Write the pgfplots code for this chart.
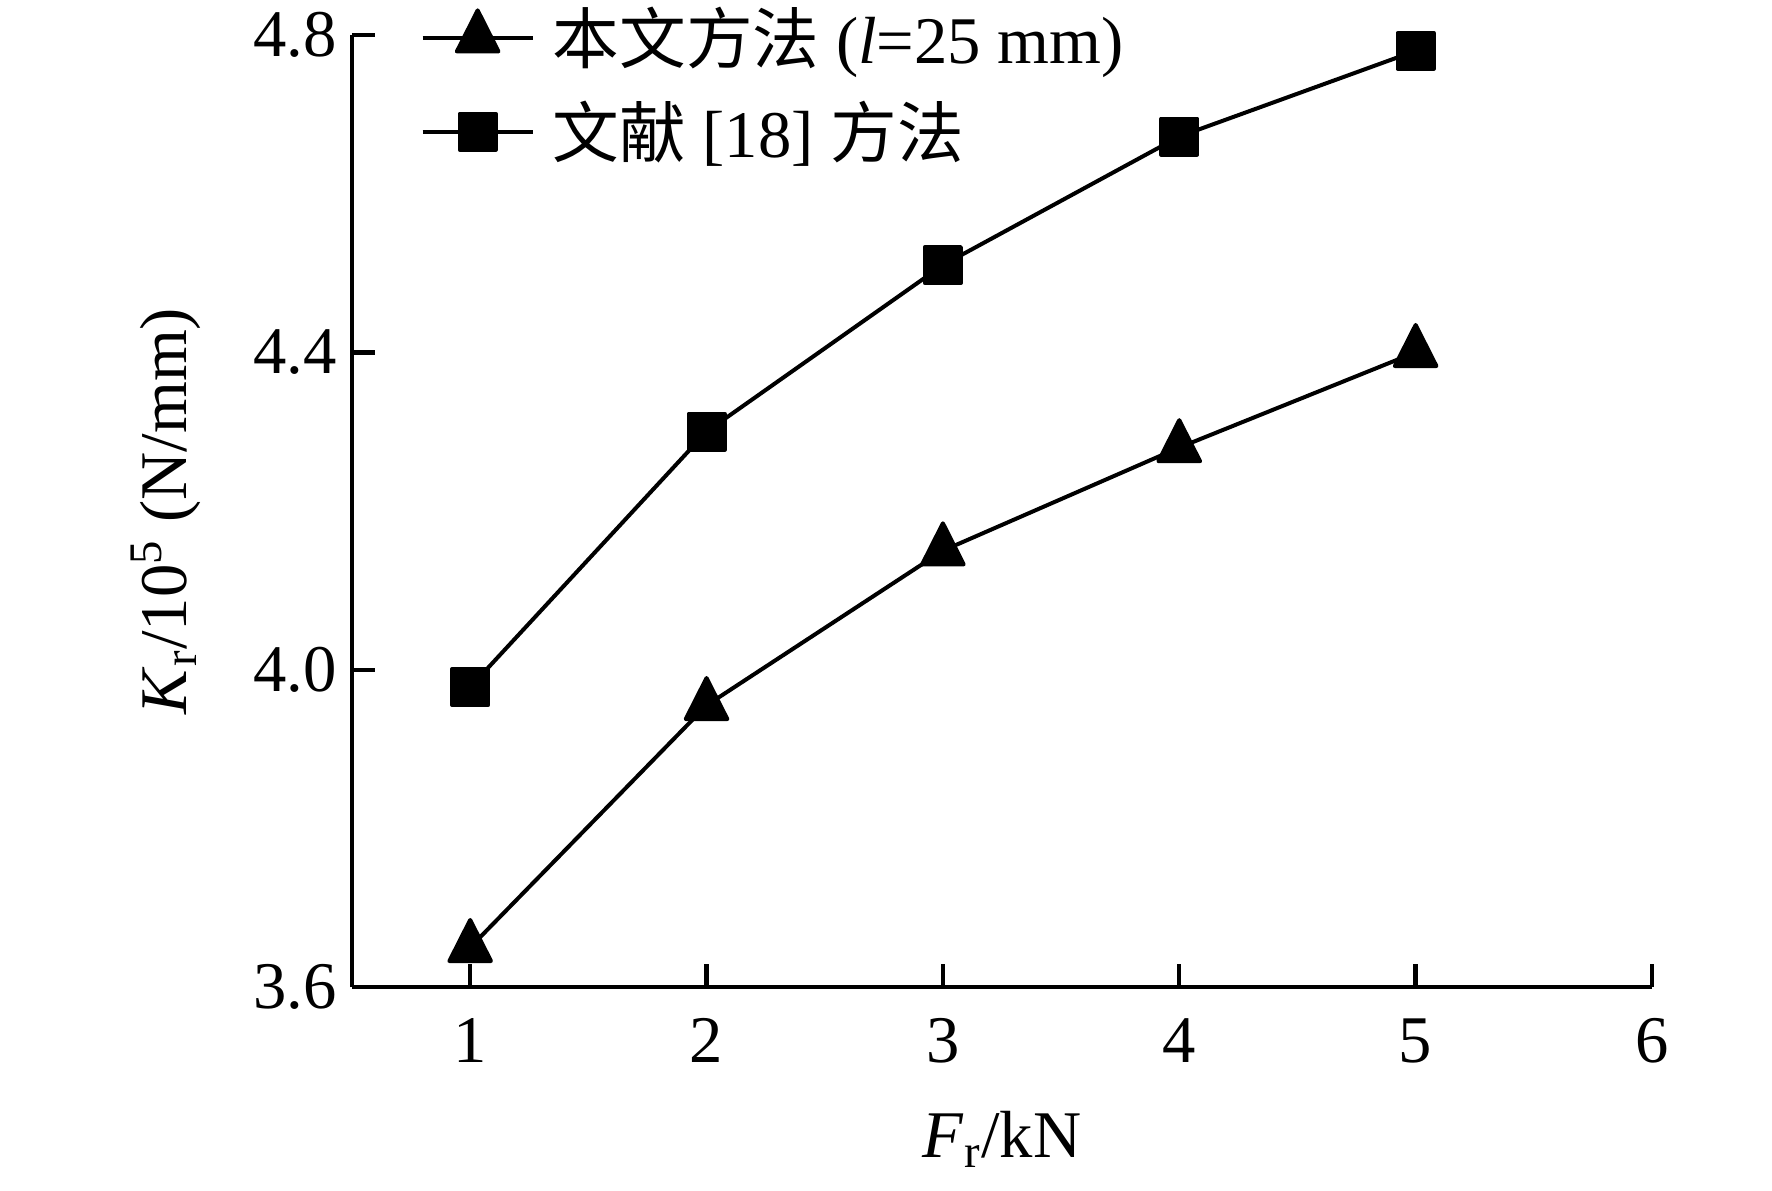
\documentclass[border=0pt]{standalone}
\usepackage{fontspec}
\setmainfont{Liberation Serif}
\newfontfamily\cjk{Noto Sans CJK SC}
\usepackage{pgfplots}
\pgfplotsset{compat=1.18}
\begin{document}
\begin{tikzpicture}
\useasboundingbox (-105.6pt,-60.9pt) rectangle (426pt,296.1pt);
\begin{axis}[
  scale only axis,
  width=390pt, height=285.6pt,
  xmin=0.5, xmax=6,
  ymin=3.6, ymax=4.8,
  axis x line*=bottom,
  axis y line*=left,
  axis line style={line width=1.3pt},
  tick style={line width=1.3pt, black},
  tick align=inside,
  major tick length=7pt,
  xtick={1,2,3,4,5,6},
  ytick={3.6,4.0,4.4,4.8},
  /pgf/number format/assume math mode=true,
  yticklabel style={xshift=-1pt, /pgf/number format/fixed, /pgf/number format/fixed zerofill, /pgf/number format/precision=1},
  tick label style={font=\fontsize{20}{24}\selectfont},
  xticklabel style={yshift=-6pt},
  label style={font=\fontsize{20}{24}\selectfont},
  xlabel={\textit{F}\textsubscript{r}/kN},
  ylabel={\textit{K}\textsubscript{r}/10\textsuperscript{5} (N/mm)},
  xlabel style={at={(axis description cs:0.5,-0.1786)}, anchor=base},
  ylabel style={at={(axis description cs:-0.1435,0.5)}, anchor=center},
  legend cell align=left,
  legend style={draw=none, fill=none, at={(axis description cs:0,1)}, anchor=north west,
    xshift=17.4pt, yshift=12.6pt, font=\fontsize{20}{24}\selectfont, row sep=5.75pt, column sep=3.4pt},
  legend image code/.code={\draw[mark repeat=2,mark phase=2,#1] plot coordinates {(0pt,0pt) (16.5pt,0pt) (33pt,0pt)};},
  clip=false,
]
\addplot[black, line width=1.2pt, mark=triangle*, mark size=7.2pt,
  mark options={solid, yscale=1.14, line join=round}]
  coordinates {(1,3.65) (2,3.955) (3,4.15) (4,4.28) (5,4.40)};
\addlegendentry{{\cjk 本文方法} (\textit{l}=25 mm)}
\addplot[black, line width=1.2pt, mark=square*, mark size=5.4pt,
  mark options={solid, line join=round}]
  coordinates {(1,3.978) (2,4.30) (3,4.51) (4,4.672) (5,4.78)};
\addlegendentry{{\cjk 文献} [18] {\cjk 方法}}
\end{axis}
\end{tikzpicture}
\end{document}
